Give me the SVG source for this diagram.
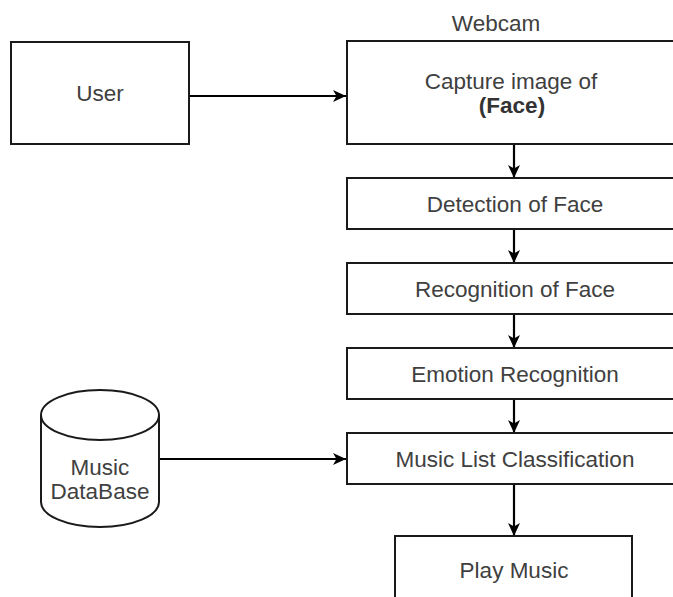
<svg xmlns="http://www.w3.org/2000/svg" width="673" height="597" viewBox="0 0 673 597">
<style>
.box{fill:#fff;stroke:#1a1a1a;stroke-width:2}
.lbl{font-family:"Liberation Sans",Arial,sans-serif;font-size:22.5px;fill:#404040;text-anchor:middle}
.b{font-weight:bold;fill:#333}
.edge{stroke:#000;stroke-width:2.2;fill:none}
</style>
<defs>
<marker id="arr" viewBox="0 0 13 12" refX="13" refY="6" markerWidth="13" markerHeight="12" markerUnits="userSpaceOnUse" orient="auto">
<path d="M0,0 L13,6 L0,12 L3.5,6 Z" fill="#000"/>
</marker>
</defs>
<rect width="673" height="597" fill="#fff"/>
<g id="connectors">
<line class="edge" x1="189" y1="96" x2="346" y2="96" marker-end="url(#arr)"/>
<line class="edge" x1="514" y1="144" x2="514" y2="178" marker-end="url(#arr)"/>
<line class="edge" x1="514" y1="229" x2="514" y2="263" marker-end="url(#arr)"/>
<line class="edge" x1="514" y1="314" x2="514" y2="348" marker-end="url(#arr)"/>
<line class="edge" x1="514" y1="399" x2="514" y2="433" marker-end="url(#arr)"/>
<line class="edge" x1="159" y1="459" x2="346" y2="459" marker-end="url(#arr)"/>
<line class="edge" x1="514" y1="484" x2="514" y2="536" marker-end="url(#arr)"/>
</g>
<g id="user">
<rect class="box" x="11" y="42" width="178" height="102"/>
<text class="lbl" x="100" y="101">User</text>
</g>
<g id="webcam-label">
<text class="lbl" x="496" y="31">Webcam</text>
</g>
<g id="capture">
<rect class="box" x="347" y="41" width="333" height="103"/>
<text class="lbl" x="511" y="89">Capture image of</text>
<text class="lbl b" x="512" y="113">(Face)</text>
</g>
<g id="detection">
<rect class="box" x="347" y="178" width="333" height="51"/>
<text class="lbl" x="515" y="211.5">Detection of Face</text>
</g>
<g id="recognition">
<rect class="box" x="347" y="263" width="333" height="51"/>
<text class="lbl" x="515" y="296.5">Recognition of Face</text>
</g>
<g id="emotion">
<rect class="box" x="347" y="348" width="333" height="51"/>
<text class="lbl" x="515" y="381.5">Emotion Recognition</text>
</g>
<g id="classification">
<rect class="box" x="347" y="433" width="333" height="51"/>
<text class="lbl" x="515" y="466.5">Music List Classification</text>
</g>
<g id="database">
<path class="box" d="M41,415 A59,25 0 0 1 159,415 L159,502 A59,25 0 0 1 41,502 Z"/>
<path d="M41,415 A59,25 0 0 0 159,415" fill="none" stroke="#1a1a1a" stroke-width="2"/>
<text class="lbl" x="100" y="475">Music</text>
<text class="lbl" x="100" y="499">DataBase</text>
</g>
<g id="play">
<rect class="box" x="395" y="536" width="237" height="90"/>
<text class="lbl" x="514" y="578">Play Music</text>
</g>
</svg>
